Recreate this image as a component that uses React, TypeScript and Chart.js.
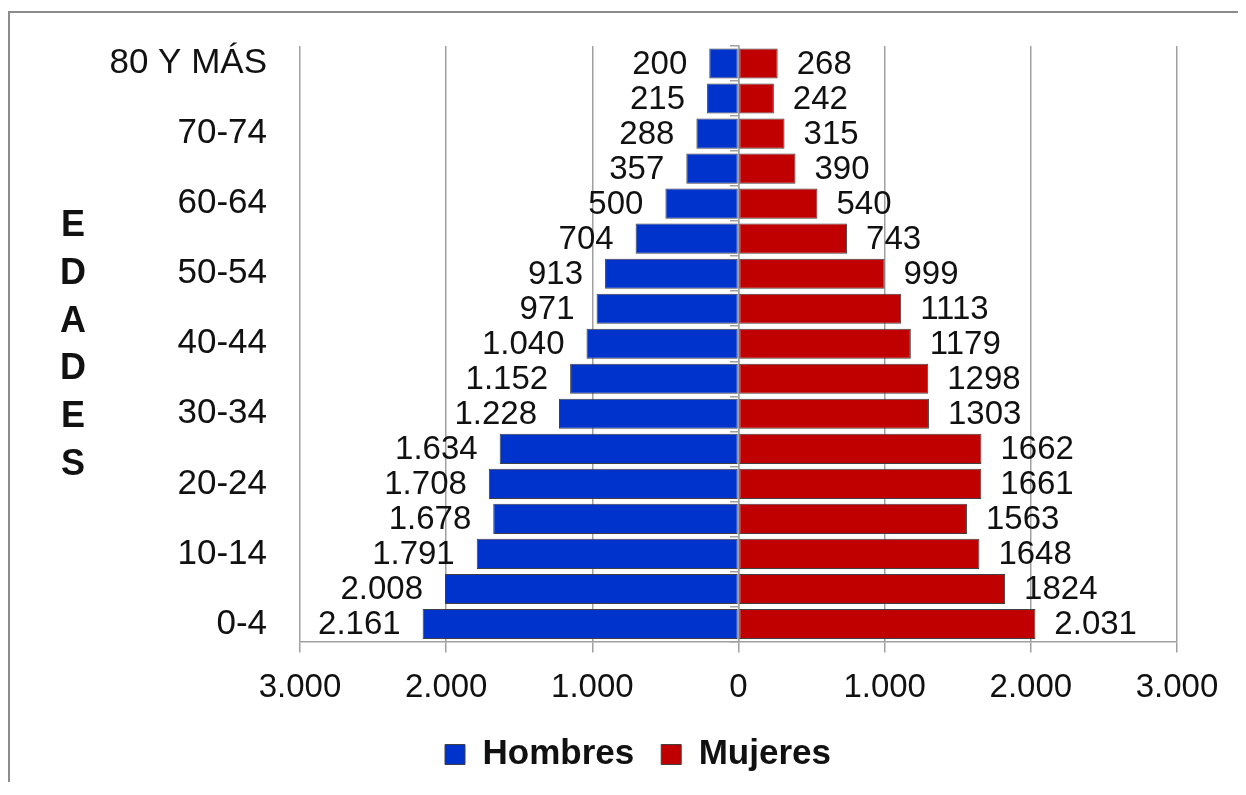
import React, { useEffect, useRef } from 'react';
import { Chart, registerables } from 'chart.js';

Chart.register(...registerables);

const ageGroups = [
  '80 Y MÁS', '75-79', '70-74', '65-69', '60-64', '55-59', '50-54', '45-49', '40-44',
  '35-39', '30-34', '25-29', '20-24', '15-19', '10-14', '5-9', '0-4',
];
const hombres = [200, 215, 288, 357, 500, 704, 913, 971, 1040, 1152, 1228, 1634, 1708, 1678, 1791, 2008, 2161];
const mujeres = [268, 242, 315, 390, 540, 743, 999, 1113, 1179, 1298, 1303, 1662, 1661, 1563, 1648, 1824, 2031];
const hombresLabels = ['200', '215', '288', '357', '500', '704', '913', '971', '1.040', '1.152', '1.228', '1.634', '1.708', '1.678', '1.791', '2.008', '2.161'];
const mujeresLabels = ['268', '242', '315', '390', '540', '743', '999', '1113', '1179', '1298', '1303', '1662', '1661', '1563', '1648', '1824', '2.031'];
const xTickLabels = ['3.000', '2.000', '1.000', '0', '1.000', '2.000', '3.000'];
const axisTitleLetters = ['E', 'D', 'A', 'D', 'E', 'S'];

const FONT = "'Liberation Sans', Arial, sans-serif";
const TEXT = '#111111';
const GRID = '#a0a0a0';

const valueLabelsPlugin = {
  id: 'valueLabels',
  afterDatasetsDraw(chart: any) {
    const ctx = chart.ctx;
    ctx.save();
    ctx.font = `33px ${FONT}`;
    ctx.fillStyle = TEXT;
    ctx.textBaseline = 'middle';
    chart.data.datasets.forEach((ds: any, di: number) => {
      const meta = chart.getDatasetMeta(di);
      const texts = di === 0 ? hombresLabels : mujeresLabels;
      meta.data.forEach((bar: any, i: number) => {
        const p = bar.getProps(['x', 'y', 'base'], true);
        if (di === 0) {
          ctx.textAlign = 'right';
          ctx.fillText(texts[i], Math.min(p.x, p.base) - 22, p.y + 1);
        } else {
          ctx.textAlign = 'left';
          ctx.fillText(texts[i], Math.max(p.x, p.base) + 19, p.y + 1);
        }
      });
    });
    ctx.restore();
  },
};

const verticalTitlePlugin = {
  id: 'verticalTitle',
  afterDraw(chart: any) {
    const ctx = chart.ctx;
    ctx.save();
    ctx.font = `bold 36px ${FONT}`;
    ctx.fillStyle = TEXT;
    ctx.textAlign = 'center';
    ctx.textBaseline = 'middle';
    axisTitleLetters.forEach((ch, i) => {
      ctx.fillText(ch, 63, 213 + i * 47.8);
    });
    ctx.restore();
  },
};

export default function App() {
  const ref = useRef<HTMLCanvasElement>(null);

  useEffect(() => {
    const canvas = ref.current;
    if (!canvas) return;
    Chart.defaults.font.family = FONT;
    const chart = new Chart(canvas, {
      type: 'bar',
      data: {
        labels: ageGroups,
        datasets: [
          {
            label: 'Hombres',
            data: hombres.map((v) => -v),
            backgroundColor: '#0033cc',
            borderColor: '#404040',
            borderWidth: 1,
            borderSkipped: false,
          },
          {
            label: 'Mujeres',
            data: mujeres,
            backgroundColor: '#c00000',
            borderColor: '#404040',
            borderWidth: 1,
            borderSkipped: false,
          },
        ],
      },
      options: {
        indexAxis: 'y',
        responsive: false,
        animation: false,
        barPercentage: 0.86,
        categoryPercentage: 1,
        layout: { padding: { left: 89, right: 59, top: 33, bottom: 1 } },
        plugins: {
          legend: {
            position: 'bottom',
            labels: {
              boxWidth: 20,
              boxHeight: 20,
              padding: 27,
              color: TEXT,
              font: { size: 35, weight: 'bold', family: FONT },
            },
          },
          tooltip: { enabled: false },
        },
        scales: {
          x: {
            type: 'linear',
            stacked: true,
            min: -3000,
            max: 3000,
            ticks: {
              stepSize: 1000,
              maxRotation: 0,
              padding: 16,
              color: TEXT,
              font: { size: 33, family: FONT },
              callback: (_v: any, i: number) => xTickLabels[i],
            },
            grid: { color: GRID, lineWidth: 1.5, tickLength: 11 },
            border: { color: GRID, width: 1.5 },
            afterFit: (s: any) => {
              s.height = 68.5;
            },
          },
          y: {
            stacked: true,
            grid: { display: false, drawTicks: false },
            border: { display: false },
            ticks: {
              autoSkip: false,
              padding: 33,
              color: TEXT,
              font: { size: 35, family: FONT },
              callback: (_v: any, i: number) => (i % 2 === 0 ? ageGroups[i] : ''),
            },
            afterFit: (s: any) => {
              s.width = 201;
              s.paddingTop = 0;
              s.paddingBottom = 0;
            },
          },
          yZero: {
            type: 'category',
            axis: 'y',
            position: { x: 0 },
            offset: true,
            grid: { offset: true, drawOnChartArea: false, tickLength: 8, color: GRID, lineWidth: 1.5 },
            ticks: { display: false },
            border: { display: true, color: GRID, width: 1.5 },
            afterFit: (s: any) => {
              s.paddingTop = 0;
              s.paddingBottom = 0;
            },
          },
        },
      } as any,
      plugins: [valueLabelsPlugin, verticalTitlePlugin],
    });
    return () => chart.destroy();
  }, []);

  return (
    <div
      style={{
        position: 'relative',
        top: 3,
        width: 1228,
        height: 772,
        borderLeft: '2px solid #8c8c8c',
        borderTop: '2px solid #8c8c8c',
      }}
    >
      <canvas ref={ref} width={1226} height={770} style={{ display: 'block' }} />
    </div>
  );
}
